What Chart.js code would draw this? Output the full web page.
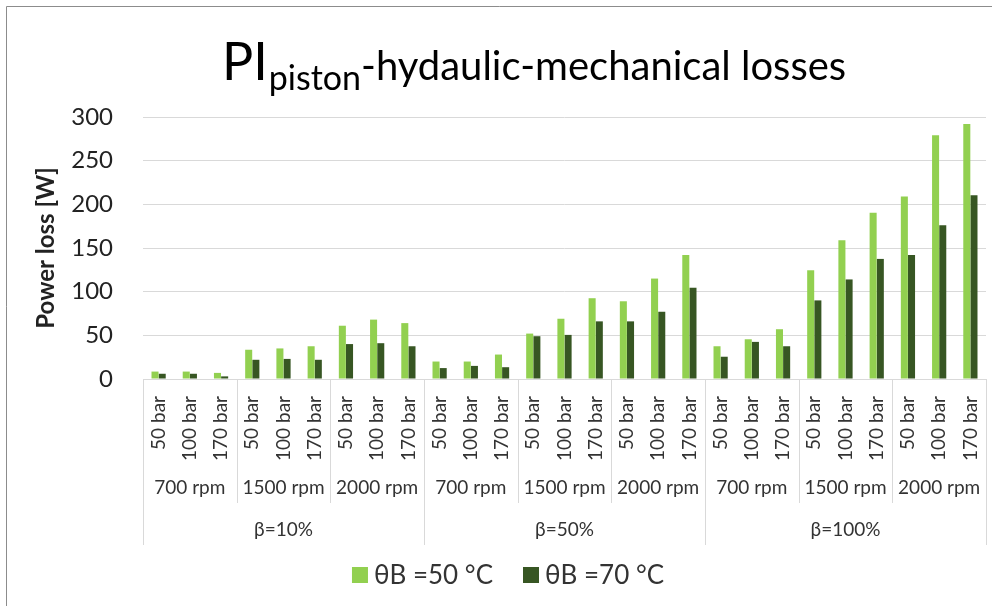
<!DOCTYPE html>
<html lang="en">
<head>
<meta charset="UTF-8">
<title>PI piston losses</title>
<script src="https://cdn.jsdelivr.net/npm/chart.js"></script>
<style>
  html, body { margin: 0; padding: 0; background: #fff; }
</style>
</head>
<body>
<canvas id="losses" width="992" height="606"></canvas>
<script>
// categories (3 levels)
var pressures = ['50 bar', '100 bar', '170 bar', '50 bar', '100 bar', '170 bar', '50 bar', '100 bar', '170 bar',
                 '50 bar', '100 bar', '170 bar', '50 bar', '100 bar', '170 bar', '50 bar', '100 bar', '170 bar',
                 '50 bar', '100 bar', '170 bar', '50 bar', '100 bar', '170 bar', '50 bar', '100 bar', '170 bar'];
var speeds = ['700 rpm', '1500 rpm', '2000 rpm', '700 rpm', '1500 rpm', '2000 rpm', '700 rpm', '1500 rpm', '2000 rpm'];
var betas = ['β=10%', 'β=50%', 'β=100%'];

var seriesNames = ['θB =50 °C', 'θB =70 °C'];
var loss50 = [8.5, 8.5, 7, 33.5, 35, 37.5, 61, 68, 64,
              20, 20, 28, 52, 69, 92.5, 89, 115, 142,
              37.5, 45.5, 57, 124.5, 159, 190.5, 209, 279, 292];
var loss70 = [6, 6, 3, 22, 23, 22, 40, 41, 37.5,
              12.5, 15, 13.5, 49, 50.5, 66, 66, 77, 104.5,
              25.5, 42.5, 37.5, 90, 114, 137.5, 142, 176, 210.5];

var colors = ['#92d050', '#375623'];
var labelFont = 'Lato, "Open Sans", sans-serif';

// title, frame, grouped category labels and legend
var decor = {
  id: 'decor',
  afterDraw: function(chart) {
    var ctx = chart.ctx;
    var x = chart.scales.x;
    var area = chart.chartArea;
    ctx.save();

    // frame
    ctx.strokeStyle = '#8c8c8c';
    ctx.lineWidth = 1;
    ctx.beginPath();
    ctx.moveTo(6.5, 606);
    ctx.lineTo(6.5, 6.5);
    ctx.lineTo(992, 6.5);
    ctx.stroke();

    // title with subscript
    ctx.fillStyle = '#000';
    ctx.textBaseline = 'alphabetic';
    ctx.textAlign = 'left';
    var tx = 222;
    ctx.font = '52px ' + labelFont;
    ctx.fillText('PI', tx, 80);
    tx += ctx.measureText('PI').width + 1;
    ctx.font = '34px ' + labelFont;
    ctx.fillText('piston', tx, 90);
    tx += ctx.measureText('piston').width;
    ctx.font = '40px ' + labelFont;
    ctx.fillText('-hydaulic-mechanical losses', tx, 80);

    // category rows
    var n = pressures.length;
    var step = (area.right - area.left) / n;
    function edge(i) { return area.left + i * step; }

    ctx.strokeStyle = '#d9d9d9';
    ctx.beginPath();
    for (var i = 0; i <= n; i++) {
      if (i % 3 !== 0) continue;
      var ex = Math.round(edge(i)) + 0.5;
      ctx.moveTo(ex, area.bottom);
      ctx.lineTo(ex, i % 9 === 0 ? 545 : 503);
    }
    ctx.stroke();

    ctx.fillStyle = '#333';
    ctx.font = '19px ' + labelFont;
    for (var j = 0; j < n; j++) {
      ctx.save();
      ctx.translate(x.getPixelForValue(j), 396);
      ctx.rotate(-Math.PI / 2);
      ctx.textAlign = 'right';
      ctx.textBaseline = 'middle';
      ctx.fillText(pressures[j], 0, 0);
      ctx.restore();
    }

    ctx.textAlign = 'center';
    ctx.textBaseline = 'middle';
    ctx.font = '19px ' + labelFont;
    speeds.forEach(function(s, k) {
      ctx.fillText(s, (edge(k * 3) + edge(k * 3 + 3)) / 2, 488);
    });
    betas.forEach(function(b, k) {
      ctx.fillText(b, (edge(k * 9) + edge(k * 9 + 9)) / 2, 530);
    });

    // legend
    ctx.font = '26px ' + labelFont;
    var box = 16, gap = 6, spacing = 30;
    var widths = seriesNames.map(function(s) { return box + gap + ctx.measureText(s).width; });
    var total = widths[0] + spacing + widths[1];
    var lx = 508 - total / 2;
    ctx.textAlign = 'left';
    seriesNames.forEach(function(s, k) {
      ctx.fillStyle = colors[k];
      ctx.fillRect(lx, 567, box, box);
      ctx.fillStyle = '#333';
      ctx.fillText(s, lx + box + gap, 576);
      lx += widths[k] + spacing;
    });

    ctx.restore();
  }
};

var ctx = document.getElementById('losses').getContext('2d');
var lossChart = new Chart(ctx, {
  type: 'bar',
  data: {
    labels: pressures,
    datasets: [{
      label: seriesNames[0],
      data: loss50,
      backgroundColor: colors[0],
      categoryPercentage: 0.46,
      barPercentage: 0.98
    }, {
      label: seriesNames[1],
      data: loss70,
      backgroundColor: colors[1],
      categoryPercentage: 0.46,
      barPercentage: 0.98
    }]
  },
  options: {
    responsive: false,
    animation: false,
    layout: { padding: { top: 117, left: 28, right: 6, bottom: 227 } },
    scales: {
      x: { display: false },
      y: {
        min: 0,
        max: 300,
        ticks: { stepSize: 50, padding: 30, color: '#222', font: { family: labelFont, size: 24 } },
        grid: { color: '#d9d9d9', drawTicks: false },
        border: { display: false },
        title: {
          display: true,
          text: 'Power loss [W]',
          color: '#222',
          font: { family: labelFont, size: 24, weight: 'bold' },
          padding: { top: 4, bottom: 0 }
        },
        afterFit: function(scale) { scale.width = 115; }
      }
    },
    plugins: {
      legend: { display: false },
      tooltip: { enabled: false }
    }
  },
  plugins: [decor]
});
</script>
</body>
</html>
